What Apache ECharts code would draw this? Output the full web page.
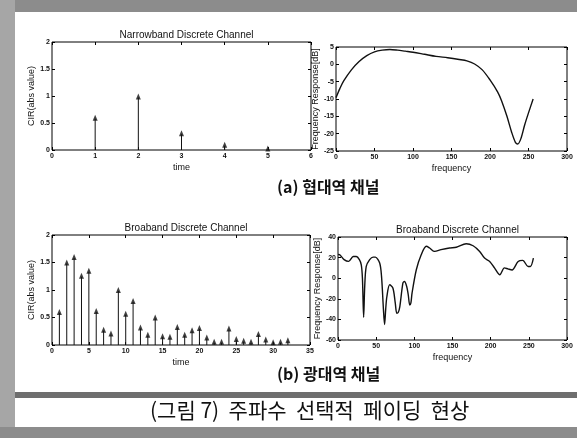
<!DOCTYPE html>
<html>
<head>
<meta charset="utf-8">
<script src="https://cdn.jsdelivr.net/npm/echarts@6/dist/echarts.min.js"></script>
<style>
  html, body { margin: 0; padding: 0; background: #fff; }
  #chart { width: 577px; height: 438px; }
</style>
</head>
<body>
<div id="chart"></div>
<script>
// 협대역 채널 CIR
const nbTime = [1, 2, 3, 4, 5];
const nbCir = [0.58, 0.97, 0.29, 0.08, 0.01];

// 광대역 채널 CIR
const bbTime = [1, 2, 3, 4, 5, 6, 7, 8, 9, 10, 11, 12, 13, 14, 15, 16,
  17, 18, 19, 20, 21, 22, 23, 24, 25, 26, 27, 28, 29, 30, 31, 32];
const bbCir = [0.58, 1.48, 1.58, 1.24, 1.33, 0.60, 0.26, 0.19, 0.98, 0.55, 0.78, 0.30, 0.17, 0.48, 0.14, 0.13,
  0.31, 0.17, 0.25, 0.29, 0.12, 0.04, 0.04, 0.28, 0.09, 0.06, 0.04, 0.18, 0.08, 0.03, 0.04, 0.07];

// 주파수 응답 (협대역)
const nbFreq = [0, 5, 10, 20, 30, 40, 50, 60, 70, 80, 90, 100, 115, 130, 145, 160, 170, 180,
  190, 200, 210, 215, 222, 228, 233, 236, 240, 245, 250, 256];
const nbResp = [-9.6, -7, -4.8, -1.6, 0.8, 2.5, 3.6, 4.1, 4.3, 4.1, 3.8, 3.5, 2.9, 2.3, 1.9, 1.4, 1.0, 0.1,
  -1.6, -4.5, -8, -10.5, -15, -19.5, -22.5, -23, -21.5, -17.5, -14, -10];

// 주파수 응답 (광대역)
const bbFreq = [0, 2, 8, 14, 20, 24, 28, 30.5, 32, 33.6, 35, 37, 41.5, 46, 49, 54.6, 57, 59.5, 61, 62.5, 64,
  67.7, 72, 75, 77, 79, 81, 85, 87, 90, 92, 94, 95.5, 97, 102.6, 109, 115.7, 120, 126.6, 135, 146,
  155, 168, 177, 185.6, 192, 198.7, 205, 212, 218, 222.7, 228, 236, 242, 249, 252, 256];
const bbResp = [23, 22.8, 18, 16.3, 21, 21, 18, 13, 0, -38, -8, 11.4, 18, 20.5, 20.5, 14.7, 2, -30, -45, -30, -18,
  -6.4, -9.7, -24, -34, -33, -27.5, -4.8, -3.2, -8, -16, -26, -24, -14.5, 8.2, 22.8, 31, 29.3, 26, 27.7, 29.3,
  30, 33.5, 31.5, 26, 19.5, 16.3, 10, 3.3, 10, 9, 8, 16.3, 17.3, 11.4, 11.4, 19.5];

const plotTitles = ['Narrowband Discrete Channel', '', 'Broaband Discrete Channel', 'Broaband Discrete Channel'];
const captionA = '(a) 협대역 채널';
const captionB = '(b) 광대역 채널';
const figCaption = '(그림 7)  주파수  선택적  페이딩  현상';

const grids = [
  { left: 52, top: 42, width: 259, height: 108 },
  { left: 336, top: 47, width: 231, height: 104 },
  { left: 52, top: 235, width: 258, height: 110 },
  { left: 338, top: 237, width: 229, height: 103 }
];

const tickFont = { fontSize: 7, color: '#111', fontFamily: 'Liberation Sans', fontWeight: 'bold' };
const nameFont = { fontSize: 9, color: '#111', fontFamily: 'Liberation Sans' };
const tickStyle = { inside: true, length: 3, lineStyle: { color: '#000' } };

const xAxes = [], yAxes = [];
function addAxes(gi, xr, yr, xName, yName, yGap) {
  xAxes.push({
    type: 'value', gridIndex: gi, min: xr[0], max: xr[1], interval: xr[2],
    name: xName, nameLocation: 'middle', nameGap: 13, nameTextStyle: nameFont,
    axisLine: { show: false, onZero: false }, splitLine: { show: false },
    axisTick: tickStyle, axisLabel: Object.assign({ margin: 3 }, tickFont)
  });
  xAxes.push({
    type: 'value', gridIndex: gi, min: xr[0], max: xr[1], interval: xr[2], position: 'top',
    axisLine: { show: false, onZero: false }, splitLine: { show: false }, axisLabel: { show: false },
    axisTick: tickStyle
  });
  yAxes.push({
    type: 'value', gridIndex: gi, min: yr[0], max: yr[1], interval: yr[2],
    name: yName, nameLocation: 'middle', nameGap: yGap, nameTextStyle: nameFont,
    axisLine: { show: false, onZero: false }, splitLine: { show: false },
    axisTick: tickStyle, axisLabel: Object.assign({ margin: 2 }, tickFont)
  });
  yAxes.push({
    type: 'value', gridIndex: gi, min: yr[0], max: yr[1], interval: yr[2], position: 'right',
    axisLine: { show: false, onZero: false }, splitLine: { show: false }, axisLabel: { show: false },
    axisTick: tickStyle
  });
}
addAxes(0, [0, 6, 1], [0, 2, 0.5], 'time', 'CIR(abs value)', 14);
addAxes(1, [0, 300, 50], [-25, 5, 5], 'frequency', 'Frequency Response[dB]', 9);
addAxes(2, [0, 35, 5], [0, 2, 0.5], 'time', 'CIR(abs value)', 14);
addAxes(3, [0, 300, 50], [-60, 40, 20], 'frequency', 'Frequency Response[dB]', 9);

function zip(a, b) { return a.map((v, i) => [v, b[i]]); }

function stem(gi, t, v) {
  return [
    { type: 'bar', xAxisIndex: gi * 2, yAxisIndex: gi * 2, data: zip(t, v), barWidth: 1,
      itemStyle: { color: '#111' }, silent: true },
    { type: 'scatter', xAxisIndex: gi * 2, yAxisIndex: gi * 2, data: zip(t, v), symbol: 'triangle',
      symbolSize: [5, 6], symbolOffset: [0, -1], itemStyle: { color: '#111' }, silent: true }
  ];
}
function curve(gi, f, r) {
  return { type: 'line', xAxisIndex: gi * 2, yAxisIndex: gi * 2, data: zip(f, r), showSymbol: false,
    smooth: 0.3, lineStyle: { color: '#111', width: 1.4 }, silent: true };
}

const titles = plotTitles.map((t, i) => ({
  text: t, left: grids[i].left + grids[i].width / 2, top: grids[i].top - 17, textAlign: 'center',
  textStyle: { fontSize: 10, fontWeight: 'normal', color: '#111', fontFamily: 'Liberation Sans' }
}));

const chart = echarts.init(document.getElementById('chart'));
chart.setOption({
  animation: false,
  backgroundColor: '#fff',
  title: titles,
  grid: grids.map(g => Object.assign({ show: true, borderColor: '#000', borderWidth: 1, backgroundColor: 'transparent' }, g)),
  xAxis: xAxes,
  yAxis: yAxes,
  series: [].concat(stem(0, nbTime, nbCir), [curve(1, nbFreq, nbResp)], stem(2, bbTime, bbCir), [curve(3, bbFreq, bbResp)]),
  graphic: [
    // 스캔 테두리
    { type: 'rect', shape: { x: 0, y: 0, width: 577, height: 12 }, style: { fill: '#8c8c8c' } },
    { type: 'rect', shape: { x: 0, y: 0, width: 15, height: 438 }, style: { fill: '#a6a6a6' } },
    { type: 'rect', shape: { x: 15, y: 12, width: 30, height: 30, r: [14, 0, 0, 0] }, style: { fill: '#fff' } },
    { type: 'rect', shape: { x: 15, y: 392, width: 562, height: 6 }, style: { fill: '#6e6e6e' } },
    { type: 'rect', shape: { x: 0, y: 427, width: 577, height: 11 }, style: { fill: '#8c8c8c' } },
    { type: 'text', left: 277, top: 179, style: { text: captionA, fontSize: 16, fontWeight: 'bold', fill: '#111', fontFamily: 'Noto Sans CJK KR' } },
    { type: 'text', left: 277, top: 366, style: { text: captionB, fontSize: 16, fontWeight: 'bold', fill: '#111', fontFamily: 'Noto Sans CJK KR' } },
    { type: 'text', left: 150, top: 400, style: { text: figCaption, fontSize: 21, fill: '#111', fontFamily: 'Noto Sans CJK KR' } }
  ]
});
</script>
</body>
</html>
